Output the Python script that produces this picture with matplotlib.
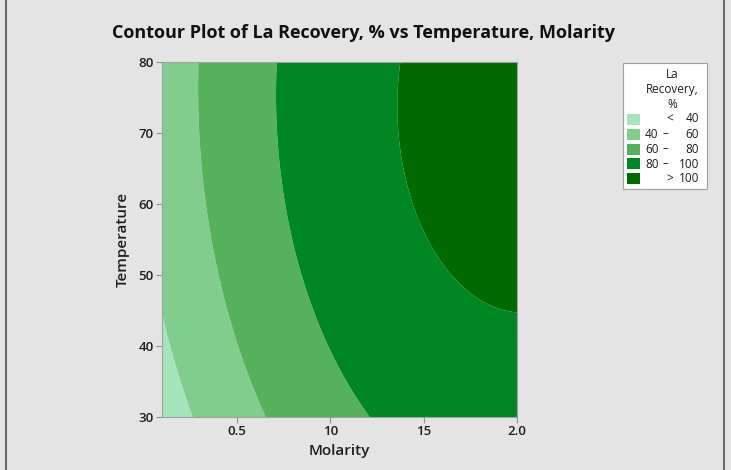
import numpy as np
import matplotlib.pyplot as plt
from matplotlib.patches import Rectangle
from matplotlib.lines import Line2D

plt.rcParams['font.family'] = ['Open Sans', 'DejaVu Sans']

bound_molarity = [0.10, 0.19, 0.26,
                  0.29, 0.30, 0.37, 0.49, 0.65,
                  0.71, 0.71, 0.76, 0.85, 1.01, 1.22,
                  1.40, 1.36, 1.42, 1.59, 1.76, 2.00]
bound_temperature = [43.7, 37.0, 30.0,
                     80.0, 70.0, 56.8, 40.0, 30.0,
                     80.0, 75.0, 60.0, 50.0, 40.0, 30.0,
                     80.0, 70.8, 60.0, 50.0, 47.2, 45.4]
bound_level = [40, 40, 40,
               60, 60, 60, 60, 60,
               80, 80, 80, 80, 80, 80,
               100, 100, 100, 100, 100, 100]

levels = [40, 60, 80, 100]
legend_labels = [('<', '', '40'), ('40', '–', '60'), ('60', '–', '80'),
                 ('80', '–', '100'), ('>', '', '100')]
colors = ['#a8e4ba', '#80cd8d', '#56b15d', '#008623', '#006a00']

xticks = [0.5, 1.0, 1.5, 2.0]
xtick_labels = ['0.5', '10', '15', '2.0']
yticks = [30, 40, 50, 60, 70, 80]

# quadratic response surface fitted through the boundary points
m = np.array(bound_molarity)
t = np.array(bound_temperature)
A = np.column_stack([np.ones_like(m), m, t, m * m, t * t, m * t])
coef, *_ = np.linalg.lstsq(A, np.array(bound_level, float), rcond=None)

M, T = np.meshgrid(np.linspace(0.1, 2.0, 400), np.linspace(30, 80, 400))
Z = coef[0] + coef[1] * M + coef[2] * T + coef[3] * M * M + coef[4] * T * T + coef[5] * M * T

bg = '#e4e4e4'
txt = '#1e1e1e'
fig = plt.figure(figsize=(7.31, 4.70), dpi=100, facecolor=bg)
ax = fig.add_axes([162 / 731, 1 - 417 / 470, 355 / 731, 355 / 470])
ax.contourf(M, T, Z, levels=[-1e9] + levels + [1e9], colors=colors, antialiased=True)

ax.set_xlim(0.1, 2.0)
ax.set_ylim(30, 80)
ax.set_xticks(xticks)
ax.set_xticklabels(xtick_labels)
ax.set_yticks(yticks)
for s in ax.spines.values():
    s.set_color('#a0a0a0')
    s.set_linewidth(0.8)
ax.tick_params(length=4, width=0.8, color='#909090', labelsize=9.5, labelcolor=txt, pad=2)
for lab in ax.get_xticklabels() + ax.get_yticklabels():
    lab.set_fontweight('semibold')
ax.set_xlabel('Molarity', fontsize=11, color=txt, labelpad=4, fontweight='semibold')
ax.set_ylabel('Temperature', fontsize=11, color=txt, labelpad=6, fontweight='semibold')

fig.text(364 / 731, 1 - 33 / 470, 'Contour Plot of La Recovery, % vs Temperature, Molarity',
         ha='center', va='center', fontsize=13, fontweight='bold', color='#111111')

# legend box
def fx(px):
    return px / 731

def fy(py):
    return 1 - py / 470

fs = 8.5
fig.add_artist(Rectangle((fx(623), fy(189)), fx(707) - fx(623), fy(63) - fy(189),
                         transform=fig.transFigure, facecolor='white', edgecolor='#a0a0a0', lw=0.8))
for i, line in enumerate(['La', 'Recovery,', '%']):
    fig.text(fx(672), fy(74 + 15 * i), line, ha='center', va='center', fontsize=fs, color=txt)
for i, (a, dash, b) in enumerate(legend_labels):
    yc = 119 + 15 * i
    fig.add_artist(Rectangle((fx(627), fy(yc + 5.5)), fx(640) - fx(627), fy(yc - 5.5) - fy(yc + 5.5),
                             transform=fig.transFigure, facecolor=colors[i], edgecolor='none'))
    if dash:
        fig.text(fx(645), fy(yc), a, ha='left', va='center', fontsize=fs, color=txt)
        fig.text(fx(665.5), fy(yc), dash, ha='center', va='center', fontsize=fs, color=txt)
    else:
        fig.text(fx(669.5), fy(yc), a, ha='center', va='center', fontsize=fs, color=txt)
    fig.text(fx(699), fy(yc), b, ha='right', va='center', fontsize=fs, color=txt)

# thin dark frame lines at the sides of the window
fig.add_artist(Line2D([fx(6), fx(6)], [0, 1], transform=fig.transFigure, color='#6a6a6a', lw=1.5))
fig.add_artist(Line2D([fx(724), fx(724)], [0, 1], transform=fig.transFigure, color='#6a6a6a', lw=1.5))

fig.savefig('out.png', dpi=100, facecolor=bg)
